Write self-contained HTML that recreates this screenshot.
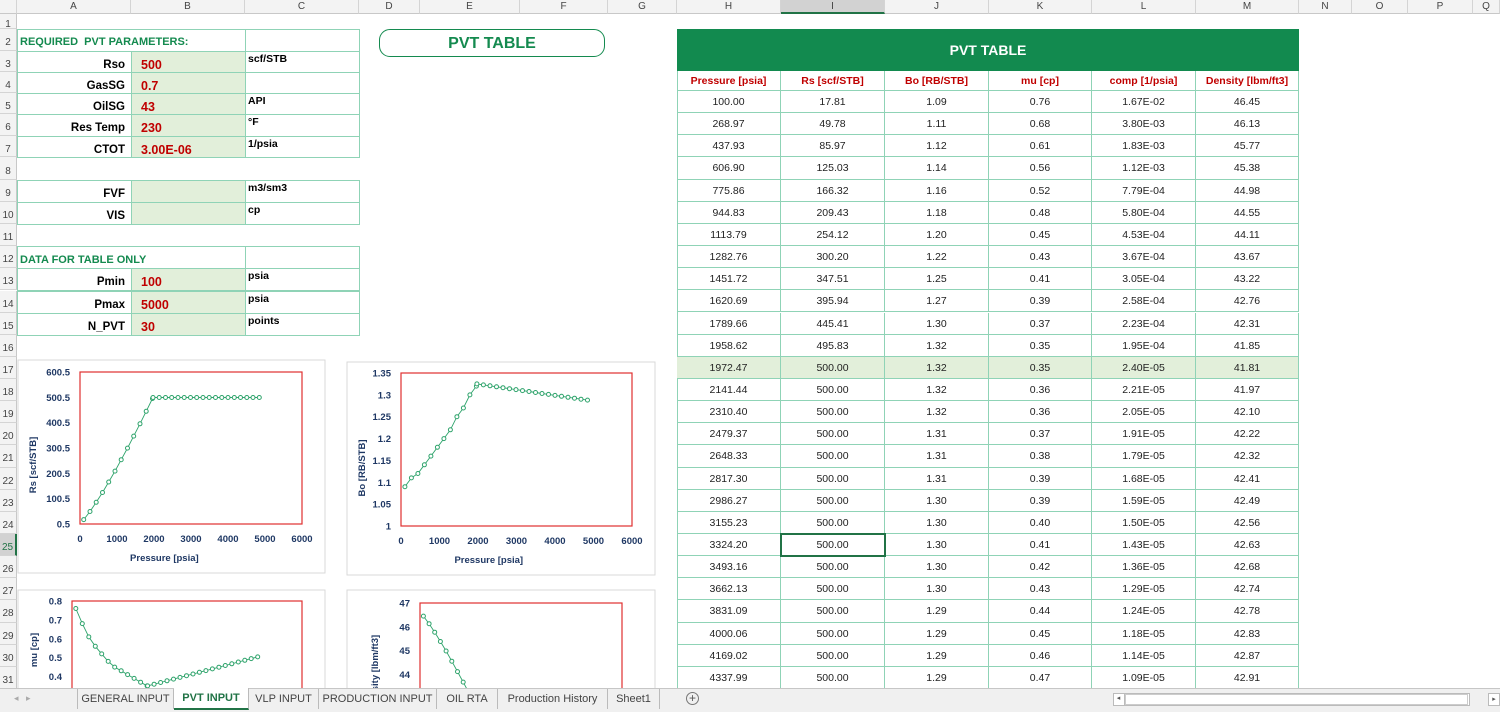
<!DOCTYPE html>
<html><head><meta charset="utf-8">
<style>
*{box-sizing:border-box;margin:0;padding:0}
body{width:1500px;height:712px;overflow:hidden;background:#fff;font-family:"Liberation Sans",Arial,sans-serif;position:relative}
.a{position:absolute}
.ch{position:absolute;top:0;height:14px;background:#f3f3f3;border-right:1px solid #d4d4d4;border-bottom:1px solid #c8c8c8;font-size:10px;color:#444;text-align:center;line-height:14px}
.rh{position:absolute;left:0;width:17px;background:#f3f3f3;border-right:1px solid #c8c8c8;border-bottom:1px solid #d4d4d4;font-size:10px;color:#444;text-align:center}
.c{position:absolute;border:1px solid #8fd3b6;font-size:11px;white-space:nowrap}
.t{position:absolute;font-size:10.5px;color:#222;text-align:center;border-right:1px solid #8fd3b6;border-bottom:1px solid #8fd3b6}
.tab{position:absolute;top:689px;height:20px;font-size:11px;color:#444;line-height:20px;text-align:center;border-right:1px solid #bbb}
</style></head><body>
<div id="root" style="position:absolute;left:0;top:0;width:1500px;height:712px;overflow:hidden"></div>
<script>
var h='';
var cols=[['',0,17],['A',17,131],['B',131,245],['C',245,359],['D',359,420],['E',420,520],['F',520,608],['G',608,677],['H',677,781],['I',781,885],['J',885,989],['K',989,1092],['L',1092,1196],['M',1196,1299],['N',1299,1352],['O',1352,1408],['P',1408,1473],['Q',1473,1500]];
cols.forEach(function(c){var sel=c[0]=='I';h+='<div class="ch" style="left:'+c[1]+'px;width:'+(c[2]-c[1])+'px;'+(sel?'background:#d2d2d2;border-bottom:2px solid #217346;':'')+'">'+c[0]+'</div>';});
function rt(n){ if(n==1)return 14; if(n==2)return 29; if(n<=8)return 50.5+(n-3)*21.3; if(n<=16) return 180+(n-9)*22.1; return 91+(n-5)*22.15;}
for(var n=1;n<=31;n++){var t=rt(n),b=rt(n+1);if(n==31)b=689;var sel=n==25;
h+='<div class="rh" style="top:'+t+'px;height:'+(b-t)+'px;line-height:'+(b-t+6)+'px;'+(sel?'background:#d2d2d2;border-right:2px solid #217346;color:#217346;':'')+'">'+n+'</div>';}
function L(n){return rt(n);}
function cell(x,y,w,hh,txt,st){h+='<div class="c" style="left:'+x+'px;top:'+y+'px;width:'+w+'px;height:'+hh+'px;'+st+'">'+txt+'</div>';}
function lrow(n,lab,val,unit){
 var t=L(n),hh=L(n+1)-t+1;
 cell(17,t,115,hh,lab,'text-align:right;padding-right:6px;font-weight:bold;font-size:11.5px;line-height:'+(hh+4)+'px');
 cell(131,t,115,hh,val,'background:#e2efda;color:#c00000;font-weight:bold;font-size:12.5px;padding-left:9px;line-height:'+(hh+4)+'px');
 cell(245,t,115,hh,unit,'font-weight:bold;font-size:10.5px;padding-left:2px;line-height:14px');
}
function lhead(n,txt){var t=L(n),hh=L(n+1)-t+1;
 cell(17,t,229,hh,txt,'color:#148a4f;font-weight:bold;font-size:11px;padding-left:2px;line-height:'+(hh+3)+'px');
 cell(245,t,115,hh,'','');}
lhead(2,'REQUIRED&nbsp; PVT PARAMETERS:');
lrow(3,'Rso','500','scf/STB');lrow(4,'GasSG','0.7','');lrow(5,'OilSG','43','API');lrow(6,'Res Temp','230','°F');lrow(7,'CTOT','3.00E-06','1/psia');
lrow(9,'FVF','','m3/sm3');lrow(10,'VIS','','cp');
lhead(12,'DATA FOR TABLE ONLY');
lrow(13,'Pmin','100','psia');lrow(14,'Pmax','5000','psia');lrow(15,'N_PVT','30','points');
h+='<div class="a" style="left:379px;top:29px;width:226px;height:28px;border:1px solid #148a4f;border-radius:11px;color:#148a4f;font-weight:bold;font-size:16px;text-align:center;line-height:27px">PVT TABLE</div>';
h+='<div class="a" style="left:677px;top:29px;width:622px;height:42px;background:#128a4f;color:#fff;font-weight:bold;font-size:14px;text-align:center;line-height:42px">PVT TABLE</div>';
var tx=[677,781,885,989,1092,1196,1299];
var hd=['Pressure [psia]','Rs [scf/STB]','Bo [RB/STB]','mu [cp]','comp [1/psia]','Density [lbm/ft3]'];
var D=`100.00 17.81 1.09 0.76 1.67E-02 46.45
268.97 49.78 1.11 0.68 3.80E-03 46.13
437.93 85.97 1.12 0.61 1.83E-03 45.77
606.90 125.03 1.14 0.56 1.12E-03 45.38
775.86 166.32 1.16 0.52 7.79E-04 44.98
944.83 209.43 1.18 0.48 5.80E-04 44.55
1113.79 254.12 1.20 0.45 4.53E-04 44.11
1282.76 300.20 1.22 0.43 3.67E-04 43.67
1451.72 347.51 1.25 0.41 3.05E-04 43.22
1620.69 395.94 1.27 0.39 2.58E-04 42.76
1789.66 445.41 1.30 0.37 2.23E-04 42.31
1958.62 495.83 1.32 0.35 1.95E-04 41.85
1972.47 500.00 1.32 0.35 2.40E-05 41.81
2141.44 500.00 1.32 0.36 2.21E-05 41.97
2310.40 500.00 1.32 0.36 2.05E-05 42.10
2479.37 500.00 1.31 0.37 1.91E-05 42.22
2648.33 500.00 1.31 0.38 1.79E-05 42.32
2817.30 500.00 1.31 0.39 1.68E-05 42.41
2986.27 500.00 1.30 0.39 1.59E-05 42.49
3155.23 500.00 1.30 0.40 1.50E-05 42.56
3324.20 500.00 1.30 0.41 1.43E-05 42.63
3493.16 500.00 1.30 0.42 1.36E-05 42.68
3662.13 500.00 1.30 0.43 1.29E-05 42.74
3831.09 500.00 1.29 0.44 1.24E-05 42.78
4000.06 500.00 1.29 0.45 1.18E-05 42.83
4169.02 500.00 1.29 0.46 1.14E-05 42.87
4337.99 500.00 1.29 0.47 1.09E-05 42.91`.split('\n').map(function(s){return s.split(' ');});
h+='<div class="a" style="left:677px;top:71px;width:1px;height:618px;background:#8fd3b6"></div>';
for(var j=0;j<6;j++){h+='<div class="t" style="left:'+tx[j]+'px;top:71px;width:'+(tx[j+1]-tx[j])+'px;height:20px;line-height:20px;color:#c00000;font-weight:bold;font-size:10.5px">'+hd[j]+'</div>';}
for(var i=0;i<27;i++){var t=91+i*22.15;var bg=i==12?'background:#e2efda;':'';var hh=i==26?(689-t):22.15;
 for(var j=0;j<6;j++){h+='<div class="t" style="left:'+tx[j]+'px;top:'+t+'px;width:'+(tx[j+1]-tx[j])+'px;height:'+hh+'px;line-height:22px;'+bg+'">'+D[i][j]+'</div>';}}
h+='<div class="a" style="left:780px;top:'+(91+20*22.15-1)+'px;width:106px;height:24px;border:2px solid #217346"></div>';
var P=[];for(var i=0;i<27;i++)P.push(D[i].map(parseFloat));
[4506.95,4675.92,4844.88].forEach(function(p,k){P.push([p,500,1.29,0.48+k*0.01,0,0]);});
function bo(r){var p=r[0];if(p>1972)return 1.325-(p-1972)/2870*0.037;return r[2];}
function mu(r){var p=r[0];if(p>1972)return 0.35+(p-1972)*0.0000535;return r[3];}
var s='<svg class="a" style="left:0;top:0" width="1500" height="688" xmlns="http://www.w3.org/2000/svg" font-family="Liberation Sans, Arial, sans-serif">';
function chart(fx,fy,fw,fh,px,py,pw,ph,ymin,ymax,yt,fmt,xl,ytitle,ytx,xtitle,fy2,pts){
 s+='<rect x="'+fx+'" y="'+fy+'" width="'+fw+'" height="'+fh+'" fill="#fff" stroke="#d9d9d9"/>';
 s+='<rect x="'+px+'" y="'+py+'" width="'+pw+'" height="'+ph+'" fill="none" stroke="#e03030" stroke-width="1.2"/>';
 yt.forEach(function(v){var y=py+ph-(v-ymin)/(ymax-ymin)*ph;s+='<text x="'+(px-10)+'" y="'+(y+3.5)+'" font-size="9.5" font-weight="bold" fill="#1f3864" text-anchor="end">'+fmt(v)+'</text>';});
 if(xl){for(var v=0;v<=6000;v+=1000){var x=px+v/6000*pw;s+='<text x="'+x+'" y="'+(py+ph+18)+'" font-size="9.5" font-weight="bold" fill="#1f3864" text-anchor="middle">'+v+'</text>';}
 s+='<text x="'+(px+pw*0.38)+'" y="'+(py+ph+37)+'" font-size="9.5" font-weight="bold" fill="#1f3864" text-anchor="middle">'+xtitle+'</text>';}
 s+='<text transform="translate('+ytx+','+fy2+') rotate(-90)" font-size="9.5" font-weight="bold" fill="#1f3864" text-anchor="middle">'+ytitle+'</text>';
 var d='',c='';pts.forEach(function(q,k){var x=px+q[0]/6000*pw,y=py+ph-(q[1]-ymin)/(ymax-ymin)*ph;d+=(k?'L':'M')+x.toFixed(1)+' '+y.toFixed(1);c+='<circle cx="'+x.toFixed(1)+'" cy="'+y.toFixed(1)+'" r="2" fill="#fff" stroke="#2ea36b" stroke-width="1"/>';});
 s+='<path d="'+d+'" fill="none" stroke="#2ea36b" stroke-width="0.9"/>'+c;
}
chart(18,360,307,213,80,372,222,152,0.5,600.5,[600.5,500.5,400.5,300.5,200.5,100.5,0.5],function(v){return v;},1,'Rs [scf/STB]',36,'Pressure [psia]',465,P.map(function(r){return [r[0],r[1]];}));
chart(347,362,308,213,401,373,231,153,1,1.35,[1.35,1.3,1.25,1.2,1.15,1.1,1.05,1],function(v){return +v.toFixed(2);},1,'Bo [RB/STB]',365,'Pressure [psia]',468,P.map(function(r){return [r[0],bo(r)];}));
chart(18,590,307,120,72,601,230,151,0,0.8,[0.8,0.7,0.6,0.5,0.4],function(v){return v;},0,'mu [cp]',37,'',650,P.map(function(r){return [r[0],mu(r)];}));
chart(347,590,308,120,420,603,202,190,39,47,[47,46,45,44],function(v){return v;},0,'Density [lbm/ft3]',378,'',672,P.slice(0,12).map(function(r){return [r[0],r[5]];}));
s+='</svg>';
h+=s;
h+='<div class="a" style="left:0;top:688px;width:1500px;height:24px;background:#f0f0f0;border-top:1px solid #c6c6c6"></div>';
h+='<div class="a" style="left:14px;top:693px;font-size:9px;color:#aaa">◂ &nbsp; ▸</div>';
var tabs=[['GENERAL INPUT',77,174],['PVT INPUT',174,249],['VLP INPUT',249,319],['PRODUCTION INPUT',319,437],['OIL RTA',437,498],['Production History',498,608],['Sheet1',608,660]];
tabs.forEach(function(t){var a=t[0]=='PVT INPUT';h+='<div class="tab" style="left:'+t[1]+'px;width:'+(t[2]-t[1])+'px;'+(a?'background:#fff;color:#217346;font-weight:bold;border-bottom:2px solid #217346;top:688px;height:22px;':'')+(t[1]==77?'border-left:1px solid #bbb;':'')+'">'+t[0]+'</div>';});
h+='<div class="a" style="left:686px;top:692px;width:13px;height:13px;border:1px solid #777;border-radius:50%;font-size:12px;line-height:11px;text-align:center;color:#555">+</div>';
h+='<div class="a" style="left:1113px;top:693px;width:357px;height:13px;background:#fff;border:1px solid #bbb"></div>';
h+='<div class="a" style="left:1113px;top:693px;width:12px;height:13px;border-right:1px solid #bbb;font-size:7px;color:#555;text-align:center;line-height:12px">◂</div>';
h+='<div class="a" style="left:1125px;top:694px;width:343px;height:11px;background:#fff;border:1px solid #ccc"></div>';
h+='<div class="a" style="left:1488px;top:693px;width:12px;height:13px;border:1px solid #bbb;font-size:7px;color:#555;text-align:center;line-height:12px;background:#fff">▸</div>';
document.getElementById('root').innerHTML=h;
</script>
</body></html>
